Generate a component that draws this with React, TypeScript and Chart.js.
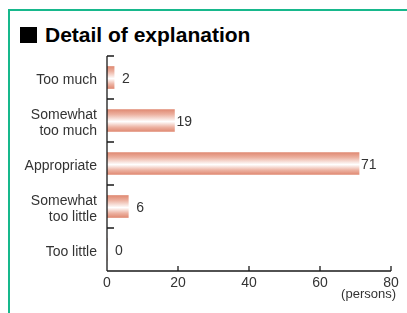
import React, { useEffect, useRef } from "react";
import { Chart, registerables } from "chart.js";

Chart.register(...registerables);

const categories: (string | string[])[] = [
  "Too much",
  ["Somewhat", "too much"],
  "Appropriate",
  ["Somewhat", "too little"],
  "Too little",
];
const persons: number[] = [2, 19, 71, 6, 0];
const xTicksMax = 80;
const xTicksStep = 20;
const title = "Detail of explanation";
const unitLabel = "(persons)";

const FONT = "'Liberation Sans', Arial, Helvetica, sans-serif";
const TEXT = "#333333";
const AXIS = "#1a1a1a";

const axesPlugin = {
  id: "customAxes",
  afterDraw(chart: any) {
    const { ctx, chartArea, scales } = chart;
    const x = scales.x;
    const y = scales.y;
    ctx.save();
    ctx.strokeStyle = AXIS;
    ctx.lineWidth = 1.3;
    ctx.beginPath();
    ctx.moveTo(chartArea.left, chartArea.top);
    ctx.lineTo(chartArea.left, chartArea.bottom);
    ctx.moveTo(chartArea.left, chartArea.bottom);
    ctx.lineTo(chartArea.right, chartArea.bottom);
    x.ticks.forEach((t: any) => {
      if (t.value === 0) return;
      const px = x.getPixelForValue(t.value);
      ctx.moveTo(px, chartArea.bottom);
      ctx.lineTo(px, chartArea.bottom - 5);
    });
    const n = categories.length;
    const band = (y.getPixelForValue(n - 1) - y.getPixelForValue(0)) / (n - 1);
    for (let i = 0; i < n; i++) {
      const py = y.getPixelForValue(i) - band / 2;
      ctx.moveTo(chartArea.left, py);
      ctx.lineTo(chartArea.left + 7, py);
    }
    ctx.stroke();

    ctx.fillStyle = TEXT;
    ctx.font = `13px ${FONT}`;
    ctx.textAlign = "right";
    ctx.textBaseline = "middle";
    ctx.fillText(unitLabel, chartArea.right + 5, chartArea.bottom + 23);
    ctx.restore();
  },
};

const valueLabelPlugin = {
  id: "valueLabels",
  afterDatasetsDraw(chart: any) {
    const { ctx } = chart;
    const meta = chart.getDatasetMeta(0);
    ctx.save();
    ctx.fillStyle = TEXT;
    ctx.font = `14px ${FONT}`;
    ctx.textAlign = "left";
    ctx.textBaseline = "middle";
    meta.data.forEach((el: any, i: number) => {
      const v = persons[i];
      const off = v < 10 ? 8 : 2;
      ctx.fillText(String(v), el.x + off, el.y + 1.5);
    });
    ctx.restore();
  },
};

export default function App() {
  const ref = useRef<HTMLCanvasElement | null>(null);

  useEffect(() => {
    if (!ref.current) return;
    const chart = new Chart(ref.current, {
      type: "bar",
      data: {
        labels: categories,
        datasets: [
          {
            data: persons,
            barThickness: 22,
            borderWidth: 0,
            backgroundColor: (c: any) => {
              const ch = c.chart;
              const ys = ch.scales && ch.scales.y;
              if (!ys || c.dataIndex === undefined) return "#e3937c";
              const yc = ys.getPixelForValue(c.dataIndex);
              if (!Number.isFinite(yc)) return "#e3937c";
              const g = ch.ctx.createLinearGradient(0, yc - 11, 0, yc + 11);
              g.addColorStop(0, "#e08a73");
              g.addColorStop(0.22, "#ecb09f");
              g.addColorStop(0.55, "#ffffff");
              g.addColorStop(0.8, "#edb3a3");
              g.addColorStop(1, "#e08a73");
              return g;
            },
          },
        ],
      },
      options: {
        indexAxis: "y",
        responsive: false,
        animation: false,
        events: [],
        layout: { padding: { left: 0, top: 56, right: 16, bottom: 0 } },
        plugins: {
          legend: { display: false },
          tooltip: { enabled: false },
          title: { display: false },
        },
        scales: {
          x: {
            min: 0,
            max: xTicksMax,
            grid: { display: false, drawTicks: false },
            border: { display: false },
            ticks: {
              stepSize: xTicksStep,
              color: TEXT,
              font: { family: FONT, size: 14 },
              padding: 4,
              maxRotation: 0,
            },
            afterFit: (s: any) => {
              s.height = 42;
            },
          },
          y: {
            grid: { display: false, drawTicks: false },
            border: { display: false },
            ticks: {
              color: TEXT,
              font: { family: FONT, size: 14, lineHeight: 1.1 },
              padding: 10,
              labelOffset: 2.5,
            },
            afterFit: (s: any) => {
              s.width = 107;
            },
          },
        },
      },
      plugins: [axesPlugin, valueLabelPlugin],
    });
    return () => chart.destroy();
  }, []);

  return (
    <div style={{ position: "fixed", left: 0, top: 0, width: 407, height: 313, background: "#ffffff", overflow: "hidden" }}>
      <div
        style={{
          position: "absolute",
          left: 8,
          top: 9,
          width: 480,
          height: 400,
          border: "2px solid #17b88c",
          boxSizing: "border-box",
        }}
      />
      <div style={{ position: "absolute", left: 20, top: 27, width: 17, height: 16, background: "#000" }} />
      <div
        style={{
          position: "absolute",
          left: 45,
          top: 23,
          fontFamily: FONT,
          fontWeight: "bold",
          fontSize: 21,
          lineHeight: "24px",
          color: "#000",
          whiteSpace: "nowrap",
        }}
      >
        {title}
      </div>
      <canvas
        ref={ref}
        width={407}
        height={313}
        style={{ position: "absolute", left: 0, top: 0, width: 407, height: 313 }}
      />
    </div>
  );
}
